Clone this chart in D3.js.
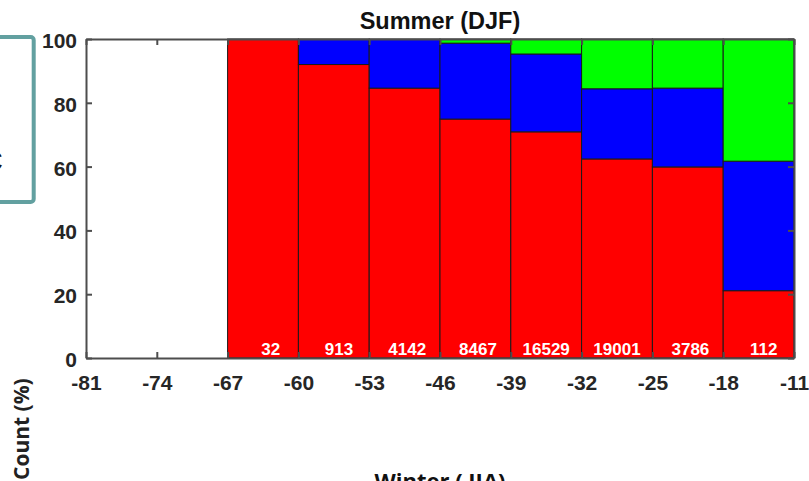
<!DOCTYPE html>
<html>
<head>
<meta charset="utf-8">
<script src="https://cdn.jsdelivr.net/npm/d3@7"></script>
<style>
  html, body { margin: 0; padding: 0; background: #fff; }
  svg { display: block; }
</style>
</head>
<body>
<svg id="chart" width="809" height="481"></svg>
<script>
// Left edge of each 7-degree bin that holds data
const binStarts = [-67, -60, -53, -46, -39, -32, -25, -18];
const binWidth = 7;
// Stacked class shares per bin (%)
const redShare   = [100, 92.0, 84.6, 74.9, 70.9, 62.4, 59.9, 21.1];
const blueShare  = [0,    8.0, 15.4, 23.8, 24.4, 22.0, 24.7, 40.6];
const greenShare = [0,    0,    0,    1.3,  4.7, 15.6, 15.4, 38.3];
// Sample count in each bin
const counts = [32, 913, 4142, 8467, 16529, 19001, 3786, 112];
// Axis ticks
const xTicks = [-81, -74, -67, -60, -53, -46, -39, -32, -25, -18, -11];
const yTicks = [0, 20, 40, 60, 80, 100];

const seriesNames = ["red", "blue", "green"];
const seriesColors = { red: "#ff0000", blue: "#0000ff", green: "#00ff00" };

const svg = d3.select("#chart");
const m = { left: 86, right: 794, top: 39, bottom: 358 };

const x = d3.scaleLinear().domain([-81, -11]).range([m.left, m.right]);
const y = d3.scaleLinear().domain([0, 100]).range([m.bottom, m.top]);

// Framed panel on the left edge
svg.append("rect")
  .attr("x", -10).attr("y", 37).attr("width", 43.7).attr("height", 165)
  .attr("rx", 3)
  .attr("fill", "none").attr("stroke", "#62a0a0").attr("stroke-width", 4);
svg.append("text")
  .attr("x", -19).attr("y", 171)
  .attr("font-family", "Liberation Sans, Arial, sans-serif")
  .attr("font-weight", "bold").attr("font-size", 30)
  .attr("fill", "#111").text("C");

// Stack the shares
const rows = binStarts.map((b, i) => ({
  start: b, red: redShare[i], blue: blueShare[i], green: greenShare[i], count: counts[i]
}));
const stack = d3.stack().keys(seriesNames)(rows);

const g = svg.append("g");
stack.forEach(layer => {
  g.selectAll(null)
    .data(layer.filter(d => d[1] - d[0] > 0))
    .enter().append("rect")
    .attr("x", d => x(d.data.start))
    .attr("width", d => x(d.data.start + binWidth) - x(d.data.start))
    .attr("y", d => y(d[1]))
    .attr("height", d => y(d[0]) - y(d[1]))
    .attr("fill", seriesColors[layer.key])
    .attr("stroke", "#1a1a1a")
    .attr("stroke-width", 1);
});

// Count labels at the base of each bar
g.selectAll(null)
  .data(rows)
  .enter().append("text")
  .attr("x", d => x(d.start + binWidth / 2))
  .attr("dx", d => (5 - String(d.count).length) * 2.6)
  .attr("y", 355)
  .attr("text-anchor", "middle")
  .attr("font-family", "Liberation Sans, Arial, sans-serif")
  .attr("font-weight", "bold").attr("font-size", 17)
  .attr("fill", "#ffffff")
  .text(d => d.count);

// Axes with inward ticks on all four sides
const axisColor = "#4d4d4d";
const plainFormat = d => String(d);
function styleAxis(sel, showLabels) {
  sel.select(".domain").attr("stroke", axisColor).attr("stroke-width", 2);
  sel.selectAll(".tick line").attr("stroke", axisColor).attr("stroke-width", 2);
  sel.selectAll(".tick text")
    .attr("font-family", "Liberation Sans, Arial, sans-serif")
    .attr("font-weight", "bold").attr("font-size", 21)
    .attr("fill", "#262626")
    .style("display", showLabels ? null : "none");
}

const xb = svg.append("g").attr("transform", `translate(0,${m.bottom})`)
  .call(d3.axisBottom(x).tickValues(xTicks).tickFormat(plainFormat)
    .tickSizeInner(-6).tickSizeOuter(0));
styleAxis(xb, true);
xb.selectAll(".tick text").attr("dy", "0.71em").attr("y", 17);

const xt = svg.append("g").attr("transform", `translate(0,${m.top})`)
  .call(d3.axisTop(x).tickValues(xTicks).tickSizeInner(-6).tickSizeOuter(0));
styleAxis(xt, false);

const yl = svg.append("g").attr("transform", `translate(${m.left},0)`)
  .call(d3.axisLeft(y).tickValues(yTicks).tickFormat(plainFormat)
    .tickSizeInner(-6).tickSizeOuter(0));
styleAxis(yl, true);
yl.selectAll(".tick text").attr("x", -9).attr("dy", "0.4em");

const yr = svg.append("g").attr("transform", `translate(${m.right},0)`)
  .call(d3.axisRight(y).tickValues(yTicks).tickSizeInner(-6).tickSizeOuter(0));
styleAxis(yr, false);

// Title
svg.append("text")
  .attr("x", (m.left + m.right) / 2).attr("y", 29)
  .attr("text-anchor", "middle")
  .attr("font-family", "Liberation Sans, Arial, sans-serif")
  .attr("font-weight", "bold").attr("font-size", 23.5)
  .attr("fill", "#111")
  .text("Summer (DJF)");

// Axis titles
svg.append("text")
  .attr("transform", "translate(29,480) rotate(-90)")
  .attr("text-anchor", "start")
  .attr("font-family", "Open Sans, sans-serif")
  .attr("font-weight", 700).attr("font-size", 21)
  .attr("fill", "#222")
  .text("Count (%)");

svg.append("text")
  .attr("x", 440).attr("y", 489)
  .attr("text-anchor", "middle")
  .attr("font-family", "Open Sans, sans-serif")
  .attr("font-weight", 700).attr("font-size", 22)
  .attr("fill", "#111")
  .text("Winter ( JJA)");
</script>
</body>
</html>
